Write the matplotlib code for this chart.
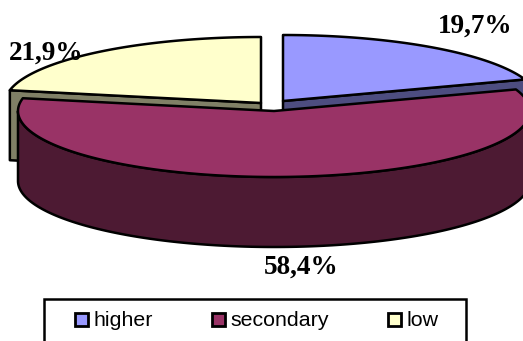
import numpy as np
import matplotlib
matplotlib.use('Agg')
import matplotlib.pyplot as plt
from matplotlib.patches import Polygon, Rectangle

# pie data
categories = ['higher', 'secondary', 'low']
shares = [19.7, 58.4, 21.9]
share_labels = ['19,7%', '58,4%', '21,9%']

top_colors = ['#9999FF', '#993366', '#FFFFCC']
side_colors = ['#4D4D80', '#4D1A33', '#808066']

# ellipse of the top face, in pixels
RX, RY = 256, 66
DEPTH = 70
# each slice is pulled apart so has its own apex
apexes = [(283, 101), (274, 111), (261, 103)]
label_pos = [(475.5, 26), (301, 267), (46.5, 53)]
legend_x = [74, 211, 387]


def rim(apex, a0, a1, n=200):
    # angles are clockwise from 12 o'clock
    t = np.radians(np.linspace(a0, a1, n))
    return np.column_stack([apex[0] + RX * np.sin(t), apex[1] - RY * np.cos(t)])


fig = plt.figure(figsize=(5.23, 3.41), dpi=100)
ax = fig.add_axes([0, 0, 1, 1])
ax.set_xlim(0, 523)
ax.set_ylim(341, 0)
ax.axis('off')

bounds = np.cumsum([0] + shares) * 3.6
edge = dict(edgecolor='black', linewidth=1.8, joinstyle='round')

# cut faces of the two back slices go first, the front slice covers them
for i, a in [(0, bounds[1]), (2, bounds[2])]:
    ap = apexes[i]
    p = rim(ap, a, a, 1)[0]
    face = [ap, p, (p[0], p[1] + DEPTH), (ap[0], ap[1] + DEPTH)]
    ax.add_patch(Polygon(face, closed=True, facecolor=side_colors[i], **edge))

for i in [0, 2]:
    ap = apexes[i]
    arc = rim(ap, bounds[i], bounds[i + 1])
    ax.add_patch(Polygon(np.vstack([[ap], arc]), closed=True, facecolor=top_colors[i], **edge))

# front slice: wall then top
ap = apexes[1]
wall = rim(ap, 90, 270)
wall_low = wall[::-1] + [0, DEPTH]
ax.add_patch(Polygon(np.vstack([wall, wall_low]), closed=True, facecolor=side_colors[1], **edge))
arc = rim(ap, bounds[1], bounds[2])
ax.add_patch(Polygon(np.vstack([[ap], arc]), closed=True, facecolor=top_colors[1], **edge))

for lab, pos in zip(share_labels, label_pos):
    ax.text(pos[0], pos[1], lab, ha='center', va='center', fontsize=19.6,
            fontweight='bold', family='Liberation Serif', color='black', zorder=5)

# legend box runs off the bottom of the figure
ax.add_patch(Rectangle((44, 299), 422, 60, facecolor='white', edgecolor='black', linewidth=1.8))
for name, col, x in zip(categories, top_colors, legend_x):
    ax.add_patch(Rectangle((x + 0.5, 312.5), 13, 13, facecolor=col, edgecolor='black', linewidth=2))
    ax.text(x + 19.5, 319, name, ha='left', va='center_baseline', fontsize=15.4,
            family='Liberation Sans', color='black')

fig.savefig('out.png', dpi=100)
